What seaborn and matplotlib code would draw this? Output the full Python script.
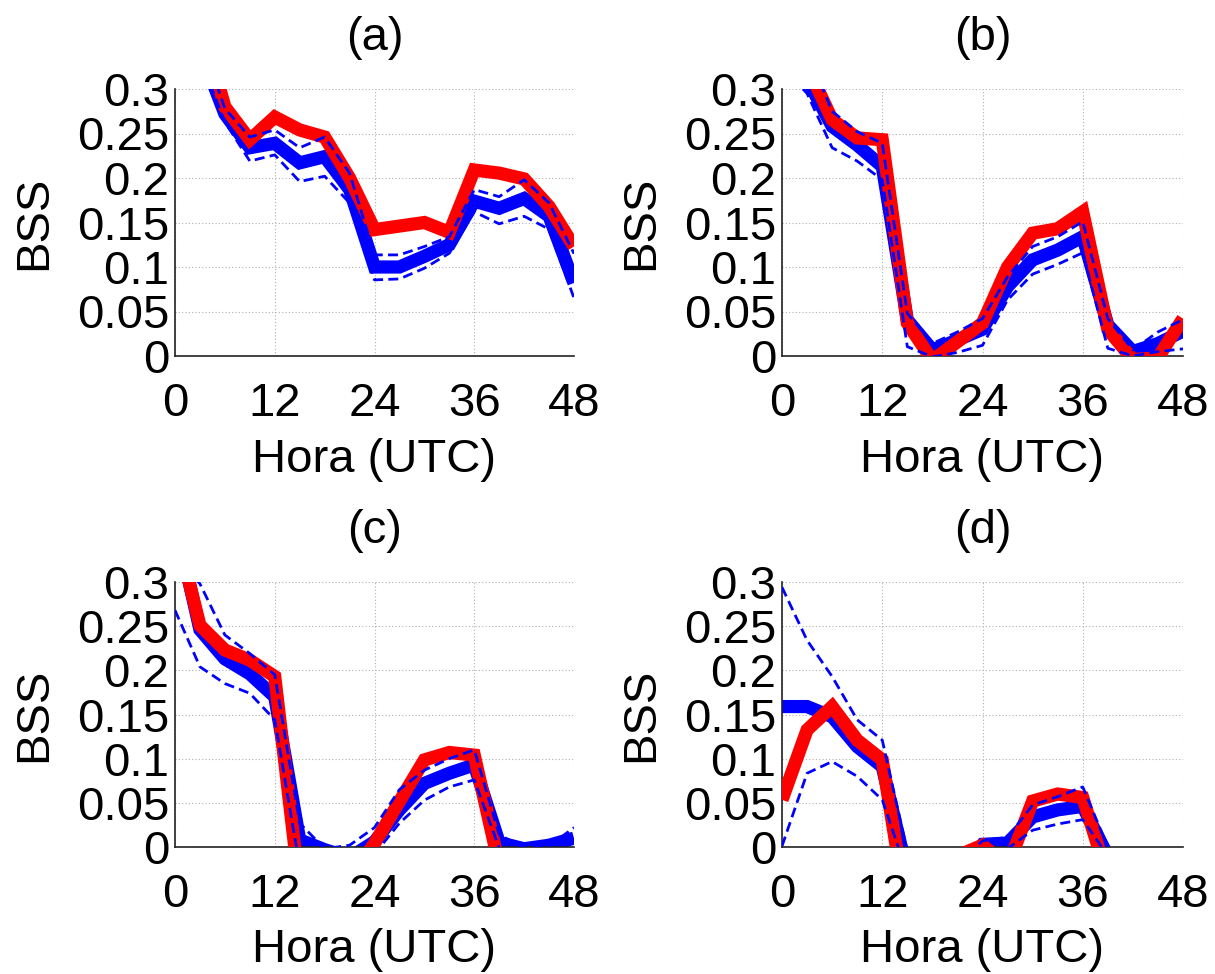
import matplotlib
matplotlib.use("Agg")
import matplotlib.pyplot as plt
import seaborn as sns

# Forecast lead time (hours, UTC)
hours = [0, 3, 6, 9, 12, 15, 18, 21, 24, 27, 30, 33, 36, 39, 42, 45, 48]

# Panel (a)
a_blue = [0.40, 0.345, 0.272, 0.234, 0.239, 0.217, 0.224, 0.187, 0.100, 0.100,
          0.112, 0.125, 0.174, 0.166, 0.177, 0.157, 0.082]
a_upper = [0.42, 0.36, 0.278, 0.246, 0.254, 0.234, 0.246, 0.2055, 0.1136, 0.1136,
           0.123, 0.134, 0.187, 0.179, 0.198, 0.172, 0.115]
a_lower = [0.40, 0.335, 0.263, 0.219, 0.226, 0.196, 0.202, 0.172, 0.0855, 0.0866,
           0.0986, 0.1155, 0.162, 0.1485, 0.157, 0.1425, 0.065]
a_red = [0.45, 0.38, 0.28, 0.243, 0.2685, 0.254, 0.246, 0.200, 0.142, 0.146,
         0.150, 0.139, 0.209, 0.2055, 0.199, 0.168, 0.123]

# Panel (b)
b_blue = [0.36, 0.311, 0.258, 0.237, 0.213, 0.0405, 0.0068, 0.018, 0.030, 0.078,
          0.108, 0.119, 0.134, 0.035, 0.005, 0.014, 0.028]
b_upper = [0.38, 0.343, 0.275, 0.252, 0.239, 0.048, 0.014, 0.027, 0.042, 0.089,
           0.123, 0.134, 0.151, 0.042, 0.0068, 0.027, 0.041]
b_lower = [0.325, 0.295, 0.234, 0.219, 0.198, 0.0105, -0.001, 0.004, 0.012, 0.063,
           0.092, 0.103, 0.116, 0.0087, 0.0, 0.005, 0.008]
b_red = [0.36, 0.326, 0.2655, 0.245, 0.243, 0.037, -0.005, 0.016, 0.037, 0.100,
         0.138, 0.143, 0.162, 0.030, -0.004, -0.002, 0.042]

# Panel (c)
c_blue = [0.37, 0.246, 0.213, 0.196, 0.170, 0.008, -0.003, -0.012, 0.006, 0.042,
          0.072, 0.0835, 0.093, 0.005, -0.002, 0.002, 0.010]
c_upper = [0.33, 0.298, 0.240, 0.219, 0.195, 0.027, -0.002, 0.002, 0.022, 0.065,
           0.087, 0.100, 0.110, 0.014, -0.001, 0.001, 0.022]
c_lower = [0.268, 0.204, 0.185, 0.174, 0.144, -0.022, -0.030, -0.020, -0.008, 0.027,
           0.053, 0.068, 0.076, -0.001, -0.020, -0.020, -0.010]
c_red = [0.364, 0.251, 0.223, 0.2115, 0.193, -0.048, -0.060, -0.036, 0.004, 0.0516,
         0.0986, 0.107, 0.104, -0.021, -0.050, -0.050, -0.030]

# Panel (d)
d_blue = [0.159, 0.159, 0.1475, 0.1137, 0.091, -0.029, -0.040, -0.030, 0.003, 0.0045,
          0.034, 0.042, 0.046, -0.010, -0.050, -0.050, -0.050]
d_upper = [0.294, 0.234, 0.193, 0.144, 0.121, -0.005, -0.020, -0.020, 0.007, 0.011,
           0.0475, 0.057, 0.068, 0.0, -0.030, -0.030, -0.030]
d_lower = [0.001, 0.0835, 0.0967, 0.080, 0.0534, -0.030, -0.030, -0.030, -0.010, -0.002,
           0.019, 0.026, 0.031, -0.010, -0.030, -0.030, -0.030]
d_red = [0.0534, 0.1325, 0.159, 0.121, 0.0986, -0.077, -0.080, -0.010, 0.002, -0.022,
         0.052, 0.060, 0.056, -0.035, -0.060, -0.060, -0.060]

titles = ["(a)", "(b)", "(c)", "(d)"]
x_ticks = [0, 12, 24, 36, 48]
y_ticks = [0, 0.05, 0.1, 0.15, 0.2, 0.25, 0.3]
y_tick_labels = ["0", "0.05", "0.1", "0.15", "0.2", "0.25", "0.3"]
x_label = "Hora (UTC)"
y_label = "BSS"

panels = [
    (a_blue, a_upper, a_lower, a_red),
    (b_blue, b_upper, b_lower, b_red),
    (c_blue, c_upper, c_lower, c_red),
    (d_blue, d_upper, d_lower, d_red),
]

sns.set_style("white")
plt.rcParams["font.family"] = ["Liberation Sans", "DejaVu Sans"]
plt.rcParams["text.color"] = "black"
plt.rcParams["axes.labelcolor"] = "black"
FS = 34

W, H = 1215, 974
fig = plt.figure(figsize=(W / 100, H / 100), dpi=100)

# axes boxes in pixels: left, top, right, bottom
boxes = [(175, 89, 574, 356), (782, 89, 1183, 356),
         (175, 582, 574, 847), (782, 582, 1183, 847)]

dash_style = (0, (3.6, 1.9))

for (l, t, r, b), title, (blue, upper, lower, red) in zip(boxes, titles, panels):
    ax = fig.add_axes([l / W, 1 - b / H, (r - l) / W, (b - t) / H])
    sns.lineplot(x=hours, y=blue, ax=ax, color="#0000ff", linewidth=9.5,
                 solid_joinstyle="miter", solid_capstyle="butt", zorder=2)
    sns.lineplot(x=hours, y=red, ax=ax, color="#ff0000", linewidth=9.5,
                 solid_joinstyle="miter", solid_capstyle="butt", zorder=3)
    for band in (upper, lower):
        sns.lineplot(x=hours, y=band, ax=ax, color="#0000ff", linewidth=2.0,
                     linestyle=dash_style, zorder=4)

    ax.set_xlim(0, 48)
    ax.set_ylim(0, 0.3)
    ax.set_xticks(x_ticks)
    ax.set_xticklabels([str(v) for v in x_ticks])
    ax.set_yticks(y_ticks)
    ax.set_yticklabels(y_tick_labels)
    ax.tick_params(axis="both", direction="in", length=5, width=1,
                   color="#111111", labelsize=FS, labelcolor="black")
    ax.tick_params(axis="y", pad=4)
    ax.tick_params(axis="x", pad=19)
    ax.grid(True, linestyle=(0, (1, 2)), color="#b0b0b0", linewidth=0.8)
    ax.set_axisbelow(True)
    for side in ("top", "right"):
        ax.spines[side].set_visible(False)
    for side in ("left", "bottom"):
        ax.spines[side].set_color("#222222")
        ax.spines[side].set_linewidth(1.2)
    ax.set_xlabel(x_label, fontsize=FS, labelpad=8)
    ax.set_ylabel(y_label, fontsize=FS, labelpad=15)
    ax.set_title(title, fontsize=FS, pad=28)

fig.savefig("out.png", dpi=100, facecolor="white")
